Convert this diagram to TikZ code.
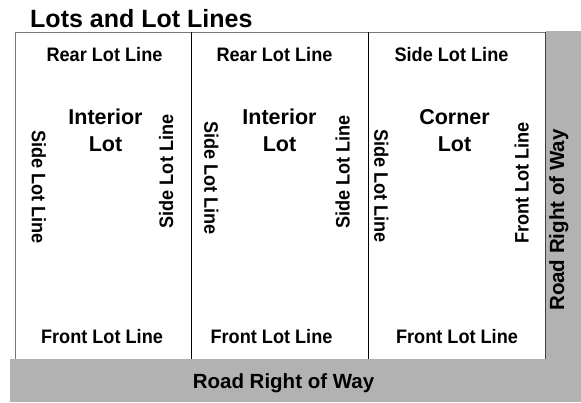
\documentclass[tikz,border=0pt]{standalone}
\usepackage{fontspec}
\setmainfont{Liberation Sans}
\newfontfamily\lblfont{Liberation Sans}[FakeStretch=0.93]
\definecolor{roadgray}{RGB}{178,178,178}
\definecolor{edgegray}{RGB}{120,120,120}
\tikzset{
  lbl/.style={inner sep=0pt, text height=0.72em, text depth=0pt, font=\lblfont\bfseries\fontsize{19.5}{19.5}\selectfont},
  lotname/.style={lbl, font=\bfseries\fontsize{21.5}{21.5}\selectfont},
  roadlbl/.style={lbl, font=\bfseries\fontsize{20.5}{20.5}\selectfont},
  divider/.style={black, line width=1.3pt},
}
\begin{document}
\begin{tikzpicture}[x=1pt,y=-1pt]
\useasboundingbox (0,0) rectangle (581,402);
\fill[white] (0,0) rectangle (581,402);
% road right of way (bottom and right)
\fill[roadgray] (10,359) rectangle (581,402);
\fill[roadgray] (545.5,31) rectangle (581,359.5);
% lot area
\fill[white] (15,32) rectangle (545.5,359);
\draw[edgegray, line width=0.8pt] (15,359) -- (15,32) -- (545.5,32);
\draw[black!75, line width=1pt] (545.5,32) -- (545.5,359);
\coordinate (d1t) at (191.5,32);
\coordinate (d1b) at (191.5,359);
\coordinate (d2t) at (368.5,32);
\coordinate (d2b) at (368.5,359);
\draw[divider] (d1t) -- (d1b);
\draw[divider] (d2t) -- (d2b);
% title
\node[anchor=base west, inner sep=0pt, font=\bfseries\fontsize{25}{25}\selectfont] (title) at (30,27) {Lots and Lot Lines};
% top labels
\node[lbl] (rear1) at (104.5,57.5) {Rear Lot Line};
\node[lbl] (rear2) at (274.5,57.5) {Rear Lot Line};
\node[lbl] (side3t) at (451.5,57.5) {Side Lot Line};
% lot names
\node[lotname] (int1a) at (105.5,121) {Interior};
\node[lotname] (int1b) at (105.5,147.5) {Lot};
\node[lotname] (int2a) at (279.5,121) {Interior};
\node[lotname] (int2b) at (279.5,147.5) {Lot};
\node[lotname] (cor3a) at (454.5,121) {Corner};
\node[lotname] (cor3b) at (454.5,147.5) {Lot};
% vertical side labels
\node[lbl, rotate=-90] (side1l) at (35.5,187) {Side Lot Line};
\node[lbl, rotate=90] (side1r) at (169.5,171.5) {Side Lot Line};
\node[lbl, rotate=-90] (side2l) at (208,178) {Side Lot Line};
\node[lbl, rotate=90] (side2r) at (346,172) {Side Lot Line};
\node[lbl, rotate=-90] (side3l) at (378,186) {Side Lot Line};
\node[lbl, rotate=90] (front3r) at (525,183) {Front Lot Line};
% bottom labels
\node[lbl] (front1) at (102,340) {Front Lot Line};
\node[lbl] (front2) at (271.5,340) {Front Lot Line};
\node[lbl] (front3) at (457,340) {Front Lot Line};
% road labels
\node[roadlbl] (roadb) at (283.5,384.5) {Road Right of Way};
\node[roadlbl, rotate=90] (roadr) at (560.5,220) {Road Right of Way};
\end{tikzpicture}
\end{document}
